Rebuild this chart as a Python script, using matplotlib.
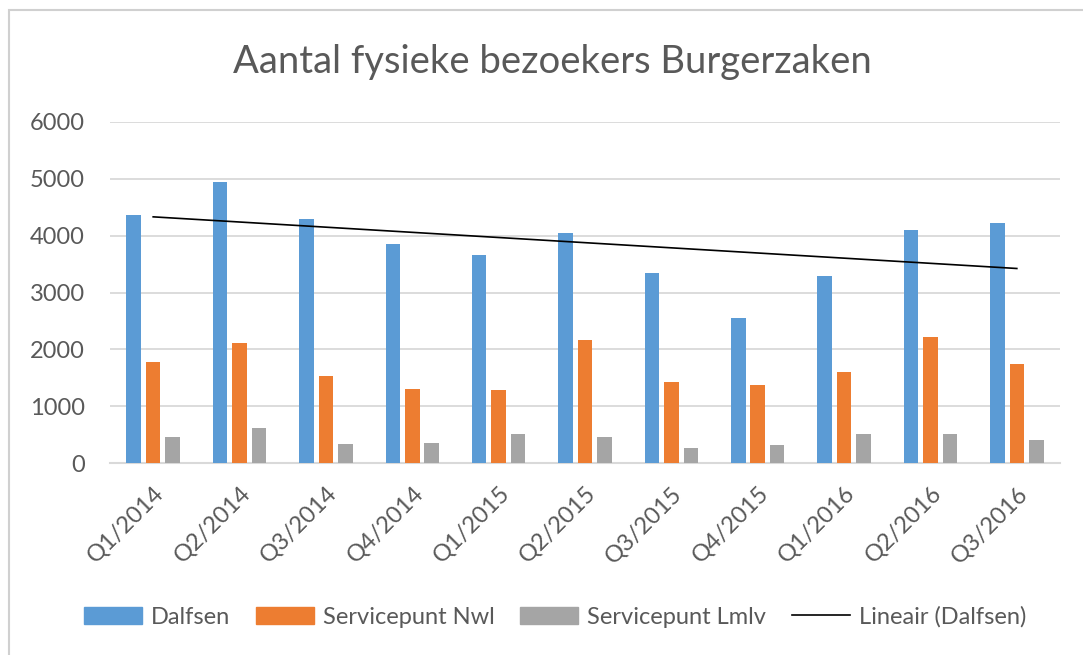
import numpy as np
import matplotlib
matplotlib.use("Agg")
import matplotlib.pyplot as plt
from matplotlib.patches import Rectangle
from matplotlib.lines import Line2D

# quarters shown on the x axis
kwartalen = ["Q1/2014", "Q2/2014", "Q3/2014", "Q4/2014", "Q1/2015", "Q2/2015",
             "Q3/2015", "Q4/2015", "Q1/2016", "Q2/2016", "Q3/2016"]

# visitors per location
dalfsen = [4355, 4940, 4300, 3845, 3665, 4050, 3335, 2550, 3285, 4095, 4225]
nwl = [1780, 2110, 1525, 1300, 1280, 2170, 1430, 1375, 1605, 2215, 1735]
lmlv = [455, 615, 335, 360, 510, 455, 260, 310, 510, 510, 410]

yticks = [0, 1000, 2000, 3000, 4000, 5000, 6000]

BLUE = "#5b9bd5"
ORANGE = "#ed7d31"
GRAY = "#a5a5a5"
TXT = "#595959"
GRID = "#d9d9d9"

plt.rcParams['font.family'] = ['Lato', 'DejaVu Sans']

W, H = 1083, 655
fig = plt.figure(figsize=(W / 100, H / 100), dpi=100)
fig.patch.set_facecolor("white")

# chart border (only top/left visible in screenshot)
fig.add_artist(Rectangle((9 / W, -0.1), 1.2, (H - 10) / H + 0.1, transform=fig.transFigure,
                         fill=False, edgecolor="#d0d0d0", lw=1.5))

ax = fig.add_axes([110 / W, 1 - 463 / H, 950 / W, (463 - 122) / H])

x = np.arange(len(kwartalen))
bw = 0.168
off = 0.225
ax.bar(x - off, dalfsen, bw, color=BLUE, zorder=3)
ax.bar(x, nwl, bw, color=ORANGE, zorder=3)
ax.bar(x + off, lmlv, bw, color=GRAY, zorder=3)

# linear trend line of Dalfsen
k, b = np.polyfit(x, dalfsen, 1)
ax.plot(x, k * x + b, color="black", lw=1.2, zorder=4)

ax.set_xlim(-0.5, len(kwartalen) - 0.5)
ax.set_ylim(0, 6000)
ax.set_yticks(yticks)
ax.set_yticklabels([str(v) for v in yticks], fontsize=17, color=TXT)
ax.grid(axis="y", color=GRID, lw=1.3, zorder=0)
ax.tick_params(axis="y", length=0, pad=18)
ax.tick_params(axis="x", length=0, pad=14)
ax.set_xticks(x)
ax.set_xticklabels(kwartalen, rotation=45, ha="right", va="top", rotation_mode="anchor",
                   fontsize=17, color=TXT)
for s in ["top", "right", "left"]:
    ax.spines[s].set_visible(False)
ax.spines["bottom"].set_color(GRID)
ax.spines["bottom"].set_linewidth(1.5)

fig.text(552 / W, 1 - 62 / H, "Aantal fysieke bezoekers Burgerzaken", ha="center", va="center",
         fontsize=27.5, color=TXT)

handles = [Rectangle((0, 0), 1, 1, color=BLUE), Rectangle((0, 0), 1, 1, color=ORANGE),
           Rectangle((0, 0), 1, 1, color=GRAY), Line2D([], [], color="black", lw=1.2)]
labels = ["Dalfsen", "Servicepunt Nwl", "Servicepunt Lmlv", "Lineair (Dalfsen)"]
fig.legend(handles, labels, loc="center", bbox_to_anchor=(555 / W, 1 - 617 / H), ncol=4,
           frameon=False, fontsize=17, labelcolor=TXT, handlelength=2.45, handleheight=0.7,
           handletextpad=0.38, columnspacing=1.1)

fig.savefig("out.png", dpi=100)
